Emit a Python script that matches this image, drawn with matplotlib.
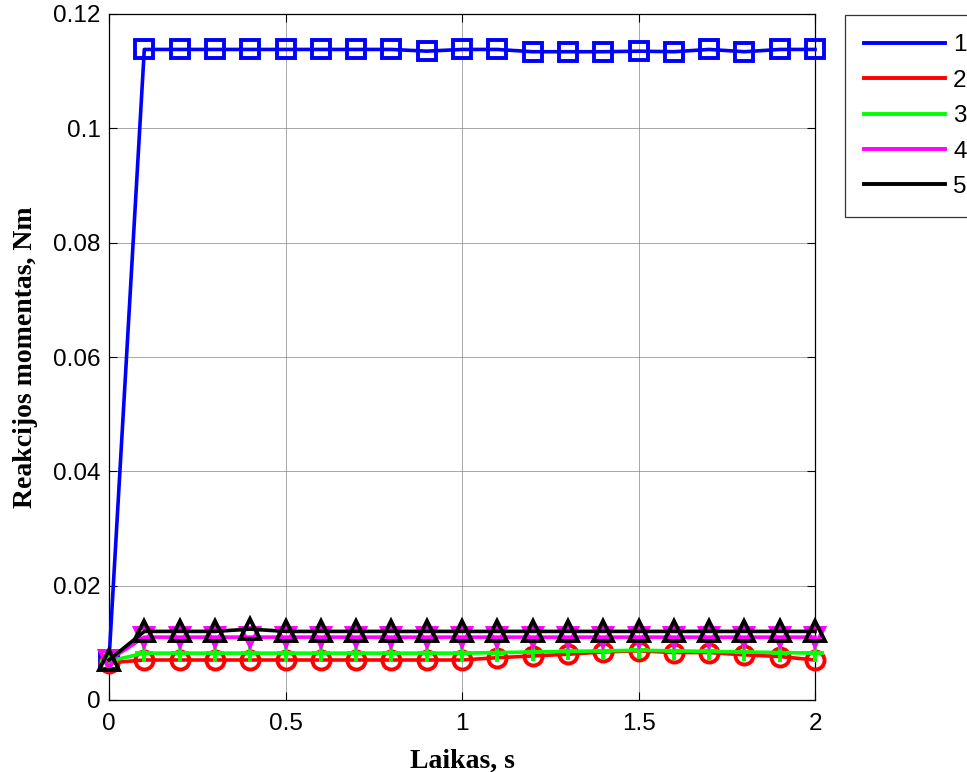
import matplotlib
matplotlib.use('Agg')
import matplotlib.pyplot as plt
from matplotlib.lines import Line2D
from matplotlib.ticker import FuncFormatter

# 时间轴 0..2 s, 步长 0.1
laikas = [0.0, 0.1, 0.2, 0.3, 0.4, 0.5, 0.6, 0.7, 0.8, 0.9, 1.0,
          1.1, 1.2, 1.3, 1.4, 1.5, 1.6, 1.7, 1.8, 1.9, 2.0]

kreive_1 = [0.0070, 0.1138, 0.1138, 0.1138, 0.1138, 0.1138, 0.1138, 0.1138, 0.1138, 0.1135, 0.1138,
            0.1138, 0.1134, 0.1134, 0.1134, 0.1135, 0.1134, 0.1138, 0.1134, 0.1138, 0.1138]
kreive_2 = [0.0065, 0.0070, 0.0070, 0.0070, 0.0070, 0.0070, 0.0070, 0.0070, 0.0070, 0.0070, 0.0070,
            0.0074, 0.0077, 0.0080, 0.0084, 0.0086, 0.0083, 0.0083, 0.0079, 0.0076, 0.0070]
kreive_3 = [0.0068, 0.0082, 0.0082, 0.0082, 0.0082, 0.0082, 0.0082, 0.0082, 0.0082, 0.0082, 0.0082,
            0.0083, 0.0084, 0.0085, 0.0086, 0.0087, 0.0086, 0.0085, 0.0084, 0.0083, 0.0082]
kreive_4 = [0.0070, 0.0110, 0.0110, 0.0110, 0.0110, 0.0110, 0.0110, 0.0110, 0.0110, 0.0110, 0.0110,
            0.0110, 0.0110, 0.0110, 0.0110, 0.0110, 0.0110, 0.0110, 0.0110, 0.0110, 0.0110]
kreive_5 = [0.0070, 0.0120, 0.0120, 0.0120, 0.0124, 0.0120, 0.0120, 0.0120, 0.0120, 0.0120, 0.0120,
            0.0120, 0.0120, 0.0120, 0.0120, 0.0120, 0.0120, 0.0120, 0.0120, 0.0120, 0.0120]

etiketes = ['1', '2', '3', '4', '5']
spalvos = ['#0000ff', '#ff0000', '#00ff00', '#ff00ff', '#000000']
zymekliai = ['s', 'o', '+', 'v', '^']
dydziai = [13, 13, 13, 13, 15]

fig = plt.figure(figsize=(9.67, 7.72), dpi=100)
ax = fig.add_axes([109 / 967, 72 / 772, 706 / 967, 686 / 772])

serijos = [kreive_1, kreive_2, kreive_3, kreive_4, kreive_5]
for y, c, m, ms in zip(serijos, spalvos, zymekliai, dydziai):
    ax.plot(laikas, y, color=c, lw=2.6, marker=m, markersize=ms,
            markeredgewidth=2.8, markerfacecolor='none', markeredgecolor=c,
            clip_on=False, zorder=3)

ax.set_xlim(0, 2)
ax.set_ylim(0, 0.12)
ax.set_xticks([0, 0.5, 1, 1.5, 2])
ax.set_yticks([0, 0.02, 0.04, 0.06, 0.08, 0.1, 0.12])
fmt = FuncFormatter(lambda v, p: '%g' % round(v, 4))
ax.xaxis.set_major_formatter(fmt)
ax.yaxis.set_major_formatter(fmt)
ax.tick_params(direction='in', top=True, right=True, length=6, width=0.8,
               labelsize=17.5)
ax.tick_params(axis='x', pad=9)
ax.tick_params(axis='y', pad=6)
for lbl in ax.get_xticklabels() + ax.get_yticklabels():
    lbl.set_family('Liberation Sans')
ax.grid(True, color='#7f7f7f', lw=0.6, ls='-', alpha=0.8)
for s in ax.spines.values():
    s.set_linewidth(0.9)

ax.set_xlabel('Laikas, s', family='Liberation Serif', weight='bold', fontsize=20, labelpad=10)
ax.set_ylabel('Reakcijos momentas, Nm', family='Liberation Serif', weight='bold', fontsize=20, labelpad=11)

handles = [Line2D([], [], color=c, lw=2.8) for c in spalvos]
leg = fig.legend(handles, etiketes, loc='upper left', bbox_to_anchor=(845 / 967, 1 - 15 / 772),
                 frameon=True, fancybox=False, edgecolor='black',
                 prop={'family': 'Liberation Sans', 'size': 17.5},
                 handlelength=3.3, handletextpad=0.35, labelspacing=0.55, borderpad=0.8,
                 borderaxespad=0)
leg.get_frame().set_linewidth(0.9)

fig.savefig('out.png', dpi=100)
